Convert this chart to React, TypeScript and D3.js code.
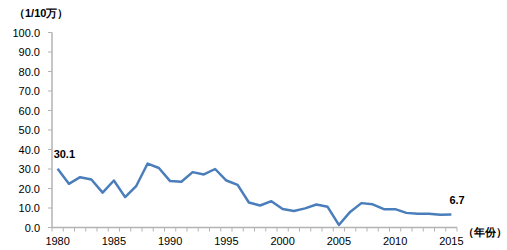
import React from "react";
import * as d3 from "d3";

const years: number[] = d3.range(1980, 2016);
const values: number[] = [30.1, 22.4, 25.8, 24.6, 17.9, 24.1, 15.6, 21.4, 32.8, 30.5, 23.8, 23.5, 28.4, 27.2, 30.0, 24.1, 21.9, 12.8, 11.3, 13.5, 9.5, 8.5, 9.8, 11.8, 10.6, 1.3, 8.0, 12.5, 11.9, 9.4, 9.4, 7.5, 7.0, 7.1, 6.6, 6.7];
const yTicks: number[] = [0, 10, 20, 30, 40, 50, 60, 70, 80, 90, 100];
const xLabelYears: number[] = [1980, 1985, 1990, 1995, 2000, 2005, 2010, 2015];
const yUnit = "（1/10万）";
const xUnit = "（年份）";
const labeledYears: number[] = [1980, 2015];

export default function App() {
  const W = 507, H = 250;
  const left = 52, right = 457, top = 32.5, bottom = 227.5;
  const x = d3.scaleBand<number>().domain(years).range([left, right]);
  const y = d3.scaleLinear().domain([0, 100]).range([bottom, top]);
  const cx = (yr: number) => (x(yr) as number) + x.bandwidth() / 2;
  const line = d3.line<number>().x((_, i) => cx(years[i])).y((v) => y(v));
  const font = "'Liberation Sans', Arial, sans-serif";
  const axisColor = "#b3b3b3";
  const boundaries = d3.range(0, years.length + 1).map((i) => left + i * x.step());
  return (
    <svg width={W} height={H} style={{ position: "absolute", left: 0, top: 0, background: "#fff" }} fontFamily={font}>
      <text x={14} y={17} fontSize={11} fontWeight="bold" fill="#000">{yUnit}</text>
      {yTicks.map((t) => (
        <g key={t}>
          <line x1={left - 4} x2={left} y1={y(t)} y2={y(t)} stroke={axisColor} />
          <text x={40} y={y(t) + 4} fontSize={11} textAnchor="end" fill="#000">{t.toFixed(1)}</text>
        </g>
      ))}
      <line x1={left} x2={left} y1={top} y2={bottom} stroke={axisColor} strokeWidth={1.5} />
      <line x1={left} x2={right} y1={bottom} y2={bottom} stroke={axisColor} strokeWidth={1.5} />
      {boundaries.map((b, i) => (
        <line key={i} x1={b} x2={b} y1={bottom} y2={bottom + 4} stroke={axisColor} />
      ))}
      {xLabelYears.map((yr) => (
        <text key={yr} x={cx(yr)} y={245} fontSize={11} textAnchor="middle" fill="#000">{yr}</text>
      ))}
      <text x={463} y={236} fontSize={11} fontWeight="bold" fill="#000">{xUnit}</text>
      <path d={line(values) || ""} fill="none" stroke="#4a7ebb" strokeWidth={2.5} strokeLinejoin="round" />
      {labeledYears.map((yr) => {
        const v = values[years.indexOf(yr)];
        return (
          <text key={yr} x={cx(yr) + (yr === 1980 ? -4 : -2)} y={y(v) - (yr === 1980 ? 11 : 10)} fontSize={11} fontWeight="bold" fill="#000">{v.toFixed(1)}</text>
        );
      })}
    </svg>
  );
}
